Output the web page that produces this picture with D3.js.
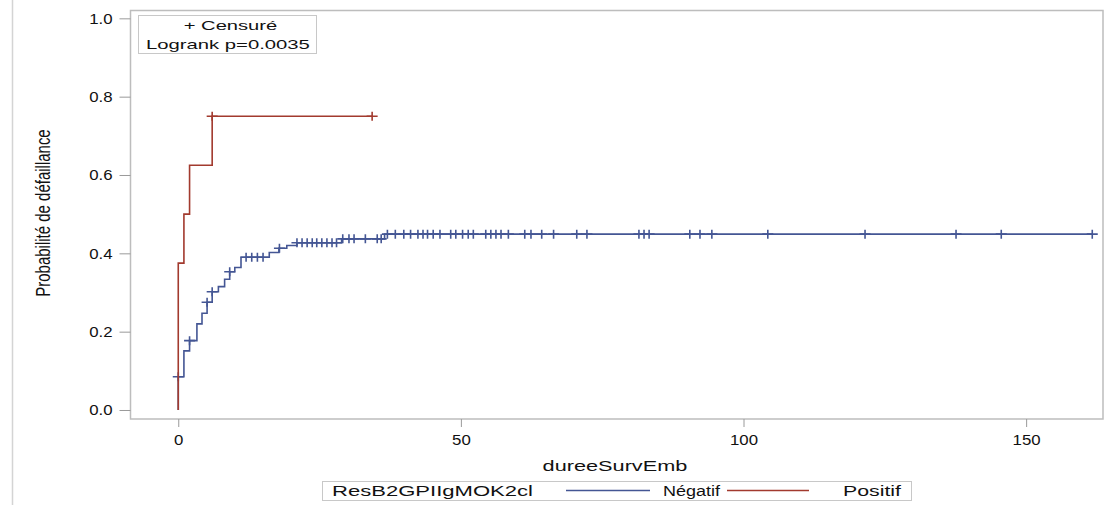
<!DOCTYPE html>
<html>
<head>
<meta charset="utf-8">
<script src="https://cdn.jsdelivr.net/npm/d3@7"></script>
<style>
  body { margin: 0; background: #fff; }
  svg text { font-family: "Liberation Sans", Arial, sans-serif; fill: #111; }
</style>
</head>
<body>
<svg id="chart" width="1106" height="509"></svg>
<script>
// Négatif group: step times and failure probability after each step
const negStepTimes = [0, 1, 2, 3.3, 4.2, 5.1, 6, 7.1, 8.2, 9.1, 10, 11.1, 16.1, 17.8, 19.2, 21, 28.9, 36.5];
const negStepProb = [0.085, 0.151, 0.177, 0.22, 0.247, 0.275, 0.302, 0.315, 0.334, 0.353, 0.364, 0.39, 0.402, 0.413, 0.42, 0.427, 0.437, 0.449];
const negCensored = [0, 2, 5.1, 6, 9.1, 12, 13, 14, 15, 17.9, 21, 21.9, 22.8, 23.7, 24.5, 25.4, 26.3, 27.2, 28,
  29.1, 30.2, 31.1, 33.1, 35.2, 35.9, 37, 38.4, 39.9, 41.1, 42.4, 43.3, 44.1, 45.1, 46.3, 48.2, 49.1, 50.3,
  51.3, 52.2, 54.4, 55.3, 56.2, 57.1, 58.4, 61.3, 62.4, 64.3, 66.4, 70.5, 72.3, 81.5, 82.4, 83.3, 90.5, 92.3,
  94.4, 104.3, 121.5, 137.6, 145.6, 161.7];

// Positif group
const posStepTimes = [0, 1, 2, 6];
const posStepProb = [0.375, 0.5, 0.625, 0.75];
const posCensored = [6, 34.3];

const xTicks = [0, 50, 100, 150];
const yTicks = [0, 0.2, 0.4, 0.6, 0.8, 1.0];
const groups = ['Négatif', 'Positif'];
const colors = ['#445694', '#A23A2E'];

const svg = d3.select('#chart');
const frame = { left: 130.5, right: 1103, top: 10.5, bottom: 419 };

const x = d3.scaleLinear().domain([-8.45, 163.6]).range([frame.left, frame.right]);
const y = d3.scaleLinear().domain([-0.023, 1.02]).range([frame.bottom, frame.top]);

// widen text horizontally like the reference
function widen(sel, k) {
  sel.each(function () {
    let w = this.getComputedTextLength();
    this.setAttribute('textLength', w * k);
    this.setAttribute('lengthAdjust', 'spacingAndGlyphs');
  });
}

function fitTo(sel, w) {
  sel.attr('textLength', w).attr('lengthAdjust', 'spacingAndGlyphs');
}

// outer left border line
svg.append('line')
  .attr('x1', 12.5).attr('x2', 12.5).attr('y1', 0).attr('y2', 505)
  .attr('stroke', '#d4d4d4').attr('stroke-width', 1.5);

svg.append('rect')
  .attr('x', frame.left).attr('y', frame.top)
  .attr('width', frame.right - frame.left).attr('height', frame.bottom - frame.top)
  .attr('fill', 'none').attr('stroke', '#bdbdbd').attr('stroke-width', 1.5);

let yAxis = svg.append('g')
  .attr('transform', `translate(${frame.left},0)`)
  .call(d3.axisLeft(y).tickValues(yTicks).tickFormat(d3.format('.1f')).tickSize(11).tickPadding(7));
yAxis.select('.domain').remove();
yAxis.selectAll('line').attr('stroke', '#9a9a9a');
yAxis.selectAll('text').style('font-size', '14px').attr('dy', '0.35em');

let xAxis = svg.append('g')
  .attr('transform', `translate(0,${frame.bottom})`)
  .call(d3.axisBottom(x).tickValues(xTicks).tickFormat(d3.format('d')).tickSize(8).tickPadding(8));
xAxis.select('.domain').remove();
xAxis.selectAll('line').attr('stroke', '#9a9a9a');
xAxis.selectAll('text').style('font-size', '14px');

svg.selectAll('.tick text').attr('font-family', null).call(widen, 1.2);

svg.append('text')
  .attr('x', 615).attr('y', 471)
  .attr('text-anchor', 'middle')
  .style('font-size', '14px')
  .text('dureeSurvEmb')
  .call(widen, 1.55);

svg.append('text')
  .attr('transform', 'translate(43,213) rotate(-90) scale(1,1.3)')
  .attr('text-anchor', 'middle')
  .attr('dy', '0.35em')
  .style('font-size', '15px')
  .text('Probabilité de défaillance');

function stepPoints(times, probs, end) {
  let pts = [[0, 0]];
  times.forEach((t, i) => pts.push([t, probs[i]]));
  pts.push([end, probs[probs.length - 1]]);
  return pts;
}

function valueAt(times, probs, t) {
  let v = 0;
  times.forEach((s, i) => { if (s <= t) v = probs[i]; });
  return v;
}

const line = d3.line()
  .x(d => x(d[0]))
  .y(d => y(d[1]))
  .curve(d3.curveStepAfter);

const series = [
  { times: negStepTimes, probs: negStepProb, cens: negCensored },
  { times: posStepTimes, probs: posStepProb, cens: posCensored }
];

series.forEach((s, i) => {
  let end = d3.max(s.cens);
  svg.append('path')
    .datum(stepPoints(s.times, s.probs, end))
    .attr('d', line)
    .attr('fill', 'none')
    .attr('stroke', colors[i])
    .attr('stroke-width', 1.6);

  svg.append('g').selectAll('path')
    .data(s.cens)
    .enter().append('path')
      .attr('transform', d => `translate(${x(d)},${y(valueAt(s.times, s.probs, d))})`)
      .attr('d', 'M-5.5,0H5.5M0,-4.5V4.5')
      .attr('stroke', colors[i])
      .attr('stroke-width', 1.6);
});

// inset legend
svg.append('rect')
  .attr('x', 138.5).attr('y', 15.5).attr('width', 178).attr('height', 38)
  .attr('fill', '#fff').attr('stroke', '#c8c8c8');
svg.append('text')
  .attr('x', 230.5).attr('y', 29.5).attr('text-anchor', 'middle')
  .style('font-size', '13px')
  .text('+ Censuré')
  .call(widen, 1.55);
svg.append('text')
  .attr('x', 146).attr('y', 48.5)
  .style('font-size', '13.5px')
  .text('Logrank p=0.0035')
  .call(widen, 1.5);

// bottom legend
let leg = svg.append('g');
leg.append('rect')
  .attr('x', 322.5).attr('y', 481.5).attr('width', 589).attr('height', 19)
  .attr('fill', '#fff').attr('stroke', '#c8c8c8');
leg.append('text')
  .attr('x', 332).attr('y', 496)
  .style('font-size', '14px')
  .text('ResB2GPIIgMOK2cl')
  .call(fitTo, 201);

const legItems = [
  { x1: 566, x2: 650, tx: 663, w: 57 },
  { x1: 727, x2: 809, tx: 843, w: 58 }
];
groups.forEach((g, i) => {
  leg.append('line')
    .attr('x1', legItems[i].x1).attr('x2', legItems[i].x2)
    .attr('y1', 490.5).attr('y2', 490.5)
    .attr('stroke', colors[i]).attr('stroke-width', 1.4);
  leg.append('text')
    .attr('x', legItems[i].tx).attr('y', 496)
    .style('font-size', '14px')
    .text(g)
    .call(fitTo, legItems[i].w);
});
</script>
</body>
</html>
